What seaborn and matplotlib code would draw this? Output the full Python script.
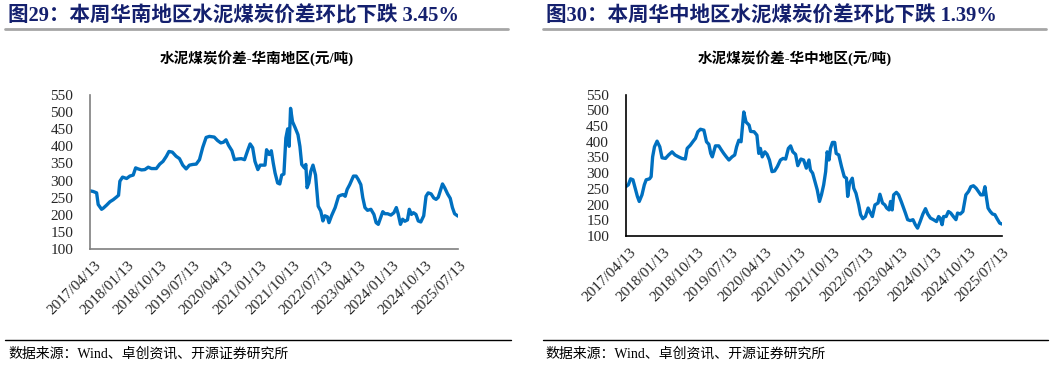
import pandas as pd
import matplotlib
matplotlib.use('Agg')
import matplotlib.pyplot as plt
import matplotlib.dates as mdates
from matplotlib.lines import Line2D
from matplotlib.transforms import ScaledTranslation
import seaborn as sns

# 华南地区 水泥煤炭价差 (元/吨)
south_dates = [
    '2017-04-13', '2017-05-10', '2017-06-07', '2017-06-20', '2017-07-18', '2017-07-31',
    '2017-08-28', '2017-09-25', '2017-10-22', '2017-11-19', '2017-12-05', '2017-12-16',
    '2018-01-07', '2018-02-10', '2018-03-08', '2018-04-05', '2018-04-25', '2018-05-16',
    '2018-06-13', '2018-07-10', '2018-08-07', '2018-09-03', '2018-10-13', '2018-11-10',
    '2018-12-07', '2019-01-04', '2019-01-25', '2019-02-22', '2019-03-25', '2019-04-22',
    '2019-05-19', '2019-06-16', '2019-07-13', '2019-08-10', '2019-09-07', '2019-10-04',
    '2019-10-31', '2019-11-28', '2019-12-25', '2020-02-03', '2020-03-01', '2020-03-28',
    '2020-04-19', '2020-05-10', '2020-05-31', '2020-06-28', '2020-07-19', '2020-08-16',
    '2020-09-13', '2020-10-10', '2020-11-07', '2020-11-25', '2020-12-16', '2021-01-04',
    '2021-01-28', '2021-02-16', '2021-03-13', '2021-03-28', '2021-04-10', '2021-05-01',
    '2021-05-19', '2021-06-04', '2021-06-19', '2021-07-10', '2021-07-28', '2021-08-13',
    '2021-08-31', '2021-09-16', '2021-10-01', '2021-10-13', '2021-10-25', '2021-11-10',
    '2021-12-01', '2021-12-25', '2022-01-10', '2022-01-25', '2022-02-16', '2022-02-28',
    '2022-03-10', '2022-03-25', '2022-04-10', '2022-04-28', '2022-05-19', '2022-06-10',
    '2022-07-01', '2022-07-19', '2022-08-04', '2022-08-25', '2022-09-07', '2022-09-28',
    '2022-10-28', '2022-11-25', '2022-12-13', '2023-01-01', '2023-01-19', '2023-02-04',
    '2023-02-25', '2023-03-07', '2023-03-28', '2023-04-19', '2023-05-07', '2023-05-28',
    '2023-06-13', '2023-07-01', '2023-07-22', '2023-08-19', '2023-09-13', '2023-10-01',
    '2023-10-19', '2023-11-07', '2023-11-25', '2023-12-13', '2024-01-04', '2024-01-31',
    '2024-02-25', '2024-03-16', '2024-03-31', '2024-04-19', '2024-05-07', '2024-05-25',
    '2024-06-16', '2024-07-01', '2024-07-19', '2024-08-04', '2024-08-25', '2024-09-13',
    '2024-10-04', '2024-10-28', '2024-11-16', '2024-12-04', '2024-12-28', '2025-01-19',
    '2025-02-07', '2025-02-25', '2025-03-13', '2025-04-01', '2025-04-19', '2025-05-13',
    '2025-06-04', '2025-06-22', '2025-07-10', '2025-08-07',
]
south_values = [
    270, 268, 264, 230, 216, 219,
    228, 238, 244, 252, 257, 298,
    310, 306, 313, 316, 337, 334,
    331, 332, 339, 335, 335, 348,
    356, 371, 385, 383, 371, 364,
    345, 334, 345, 347, 348, 361,
    397, 426, 429, 427, 417, 410,
    412, 419, 403, 387, 361, 363,
    364, 361, 390, 407, 396, 356,
    332, 345, 345, 345, 390, 376,
    387, 351, 322, 293, 290, 316,
    319, 424, 451, 400, 511, 472,
    455, 434, 400, 347, 337, 347,
    279, 293, 327, 345, 316, 225,
    211, 182, 197, 194, 177, 197,
    221, 254, 257, 259, 254, 274,
    288, 296, 313, 313, 303, 288,
    250, 221, 213, 216, 201, 177,
    172, 191, 209, 203, 203, 199,
    206, 221, 203, 172, 187, 181,
    185, 216, 201, 206, 201, 182,
    179, 197, 254, 264, 261, 249,
    245, 251, 269, 290, 279, 261,
    248, 221, 203, 196,
]

# 华中地区 水泥煤炭价差 (元/吨)
central_dates = [
    '2017-04-13', '2017-05-04', '2017-05-22', '2017-06-10', '2017-06-28', '2017-07-16',
    '2017-07-31', '2017-08-22', '2017-09-10', '2017-09-25', '2017-10-22', '2017-11-04',
    '2017-11-16', '2017-12-01', '2017-12-22', '2018-01-13', '2018-01-31', '2018-02-28',
    '2018-03-25', '2018-04-22', '2018-05-16', '2018-06-13', '2018-07-10', '2018-08-07',
    '2018-08-22', '2018-09-16', '2018-10-10', '2018-10-28', '2018-11-16', '2018-12-07',
    '2019-01-04', '2019-01-25', '2019-02-13', '2019-02-28', '2019-03-13', '2019-04-07',
    '2019-05-04', '2019-05-25', '2019-06-13', '2019-07-04', '2019-07-25', '2019-08-19',
    '2019-09-10', '2019-09-25', '2019-10-13', '2019-10-31', '2019-11-22', '2019-12-10',
    '2020-01-04', '2020-01-16', '2020-02-13', '2020-03-07', '2020-03-22', '2020-04-04',
    '2020-04-19', '2020-05-10', '2020-05-28', '2020-06-16', '2020-07-07', '2020-07-28',
    '2020-08-19', '2020-09-13', '2020-10-04', '2020-10-25', '2020-11-16', '2020-12-04',
    '2020-12-22', '2021-01-13', '2021-01-31', '2021-02-25', '2021-03-19', '2021-04-10',
    '2021-05-01', '2021-05-13', '2021-05-31', '2021-06-19', '2021-07-07', '2021-07-25',
    '2021-08-10', '2021-08-28', '2021-09-13', '2021-09-25', '2021-10-10', '2021-10-22',
    '2021-11-07', '2021-11-25', '2021-12-07', '2021-12-28', '2022-01-19', '2022-02-10',
    '2022-02-28', '2022-03-10', '2022-03-25', '2022-04-16', '2022-04-28', '2022-05-16',
    '2022-06-07', '2022-06-22', '2022-07-10', '2022-07-31', '2022-08-22', '2022-09-10',
    '2022-09-25', '2022-10-16', '2022-11-10', '2022-11-25', '2022-12-16', '2023-01-04',
    '2023-01-19', '2023-02-07', '2023-02-19', '2023-03-04', '2023-03-16', '2023-04-07',
    '2023-04-25', '2023-05-16', '2023-05-31', '2023-06-19', '2023-07-07', '2023-07-28',
    '2023-08-19', '2023-09-07', '2023-09-25', '2023-10-16', '2023-11-07', '2023-11-28',
    '2023-12-16', '2024-01-07', '2024-01-31', '2024-02-25', '2024-03-13', '2024-03-25',
    '2024-04-10', '2024-04-22', '2024-05-13', '2024-05-31', '2024-06-19', '2024-07-10',
    '2024-07-31', '2024-08-13', '2024-09-04', '2024-09-25', '2024-10-07', '2024-10-19',
    '2024-11-10', '2024-11-28', '2024-12-19', '2025-01-10', '2025-01-28', '2025-02-16',
    '2025-03-07', '2025-03-22', '2025-04-04', '2025-04-16', '2025-05-04', '2025-05-22',
    '2025-06-10', '2025-06-28', '2025-07-19', '2025-08-07',
]
central_values = [
    257, 263, 282, 279, 252, 226,
    210, 231, 263, 279, 282, 289,
    352, 384, 402, 384, 349, 347,
    358, 368, 358, 352, 347, 345,
    379, 389, 402, 411, 432, 440,
    437, 400, 392, 363, 352, 387,
    387, 374, 363, 352, 342, 352,
    358, 384, 405, 400, 495, 463,
    453, 433, 432, 421, 363, 379,
    352, 368, 360, 342, 305, 307,
    321, 342, 347, 345, 379, 387,
    368, 360, 324, 345, 342, 316,
    342, 310, 300, 273, 247, 210,
    231, 263, 305, 368, 342, 379,
    398, 398, 363, 358, 321, 289,
    284, 226, 268, 284, 252, 236,
    199, 168, 155, 162, 189, 173,
    162, 199, 205, 233, 205, 199,
    189, 183, 210, 183, 231, 239,
    231, 210, 194, 173, 152, 149,
    152, 136, 125, 146, 170, 187,
    170, 157, 152, 146, 162, 157,
    136, 162, 162, 178, 173, 162,
    152, 173, 170, 178, 205, 231,
    242, 257, 260, 252, 242, 231,
    231, 257, 220, 189, 178, 170,
    168, 155, 141, 138,
]

headers = ['图29：本周华南地区水泥煤炭价差环比下跌 3.45%',
           '图30：本周华中地区水泥煤炭价差环比下跌 1.39%']
chart_titles = ['水泥煤炭价差-华南地区(元/吨)', '水泥煤炭价差-华中地区(元/吨)']
source_note = '数据来源：Wind、卓创资讯、开源证券研究所'
y_ticks = list(range(100, 551, 50))

sns.set_style('white')
plt.rcParams['font.family'] = ['Liberation Serif', 'Noto Sans CJK SC', 'DejaVu Sans']

LINE_COLOR = '#0070C0'
NAVY = '#14206E'

fig = plt.figure(figsize=(10.57, 3.66), dpi=100)

panels = [
    (south_dates, south_values, [0.0851, 0.3197, 0.3482, 0.4208], '#7F7F7F'),
    (central_dates, central_values, [0.5920, 0.3552, 0.3560, 0.3861], '#000000'),
]
tick_dates = pd.date_range('2017-04-13', periods=12, freq=pd.DateOffset(months=9))
label_shift = ScaledTranslation(0.04, 0, fig.dpi_scale_trans)

for i, (dates, values, rect, spine_color) in enumerate(panels):
    df = pd.DataFrame({'date': pd.to_datetime(dates), 'value': values})
    ax = fig.add_axes(rect)
    sns.lineplot(data=df, x='date', y='value', ax=ax, color=LINE_COLOR, linewidth=2.4)
    ax.set_xlim(df['date'].iloc[0], df['date'].iloc[-1])
    ax.set_ylim(100, 550)
    ax.set_yticks(y_ticks)
    ax.set_xticks(tick_dates)
    ax.xaxis.set_major_formatter(mdates.DateFormatter('%Y/%m/%d'))
    ax.set_xlabel('')
    ax.set_ylabel('')
    for side in ['top', 'right']:
        ax.spines[side].set_visible(False)
    for side in ['left', 'bottom']:
        ax.spines[side].set_color(spine_color)
        ax.spines[side].set_linewidth(1.2)
    ax.tick_params(axis='both', direction='in', length=4, width=1, color=spine_color,
                   labelsize=11)
    ax.tick_params(axis='y', pad=12)
    ax.tick_params(axis='x', pad=7)
    for lab in ax.get_xticklabels():
        lab.set_rotation(45)
        lab.set_ha('right')
        lab.set_rotation_mode('anchor')
        lab.set_transform(lab.get_transform() + label_shift)

    x0 = 0.005 if i == 0 else 0.5135
    # header with grey rule
    fig.text(x0 + 0.003, 0.955, headers[i], color=NAVY, fontsize=14.8, fontweight='bold',
             va='center', ha='left')
    fig.add_artist(Line2D([x0, x0 + 0.476], [0.921, 0.921], color='#A6A6A6', linewidth=2))
    # chart title
    fig.text(x0 + 0.238, 0.842, chart_titles[i], color='#000000', fontsize=10.5,
             fontweight='bold', va='center', ha='center')
    # source footer
    fig.add_artist(Line2D([x0, x0 + 0.478], [0.071, 0.071], color='#000000', linewidth=1))
    fig.text(x0 + 0.003, 0.033, source_note, color='#000000', fontsize=10,
             va='center', ha='left')

fig.savefig('out.png', dpi=100)
